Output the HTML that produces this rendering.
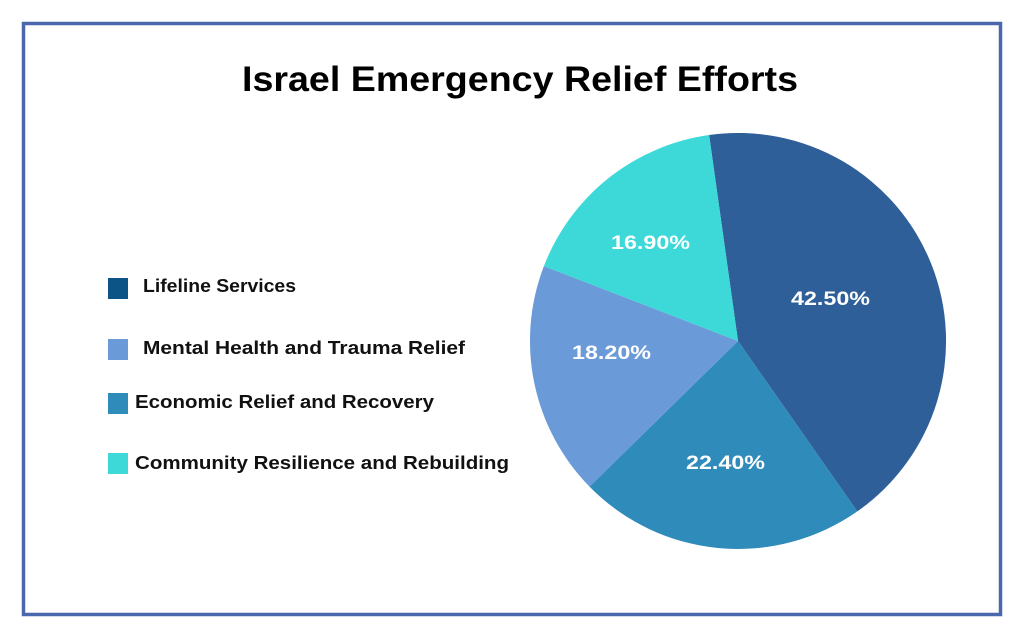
<!DOCTYPE html>
<html><head><meta charset="utf-8"><style>
html,body{margin:0;padding:0;background:#fff;}
body{width:1024px;height:638px;overflow:hidden;position:relative;font-family:"Liberation Sans",sans-serif;}
</style></head><body>
<svg width="1024" height="638" viewBox="0 0 1024 638" xmlns="http://www.w3.org/2000/svg">
<rect x="0" y="0" width="1024" height="638" fill="#fff"/>
<rect x="23.5" y="23.5" width="977" height="591" fill="none" stroke="#4a68ab" stroke-width="3.5"/>
<text x="242" y="91" textLength="556" lengthAdjust="spacingAndGlyphs" font-family="Liberation Sans, sans-serif" font-weight="bold" font-size="35" fill="#000">Israel Emergency Relief Efforts</text>
<path d="M738,341 L709.1,135 A208,208 0 0 1 857.3,511.4 Z" fill="#2e5f98"/>
<path d="M738,341 L857.3,511.4 A208,208 0 0 1 589.5,486.6 Z" fill="#2e8bba"/>
<path d="M738,341 L589.5,486.6 A208,208 0 0 1 543.9,266.1 Z" fill="#6a9bd8"/>
<path d="M738,341 L543.9,266.1 A208,208 0 0 1 709.1,135 Z" fill="#3dd9d9"/>
<g font-family="Liberation Sans, sans-serif" font-weight="bold" font-size="19" fill="#fff" lengthAdjust="spacingAndGlyphs">
<text x="791" y="305" textLength="79" lengthAdjust="spacingAndGlyphs">42.50%</text>
<text x="686" y="469" textLength="79" lengthAdjust="spacingAndGlyphs">22.40%</text>
<text x="572" y="359" textLength="79" lengthAdjust="spacingAndGlyphs">18.20%</text>
<text x="611" y="249" textLength="79" lengthAdjust="spacingAndGlyphs">16.90%</text>
</g>
<rect x="108" y="278" width="20" height="21" fill="#0b5485"/>
<rect x="108" y="339" width="20" height="21" fill="#6a9bd8"/>
<rect x="108" y="393" width="20" height="21" fill="#2e8bba"/>
<rect x="108" y="453" width="20" height="21" fill="#3dd9d9"/>
<g font-family="Liberation Sans, sans-serif" font-weight="bold" font-size="18" fill="#111">
<text x="143" y="292" textLength="153" lengthAdjust="spacingAndGlyphs">Lifeline Services</text>
<text x="143" y="354" textLength="322" lengthAdjust="spacingAndGlyphs">Mental Health and Trauma Relief</text>
<text x="135" y="408" textLength="299" lengthAdjust="spacingAndGlyphs">Economic Relief and Recovery</text>
<text x="135" y="469" textLength="374" lengthAdjust="spacingAndGlyphs">Community Resilience and Rebuilding</text>
</g>
</svg>
</body></html>
